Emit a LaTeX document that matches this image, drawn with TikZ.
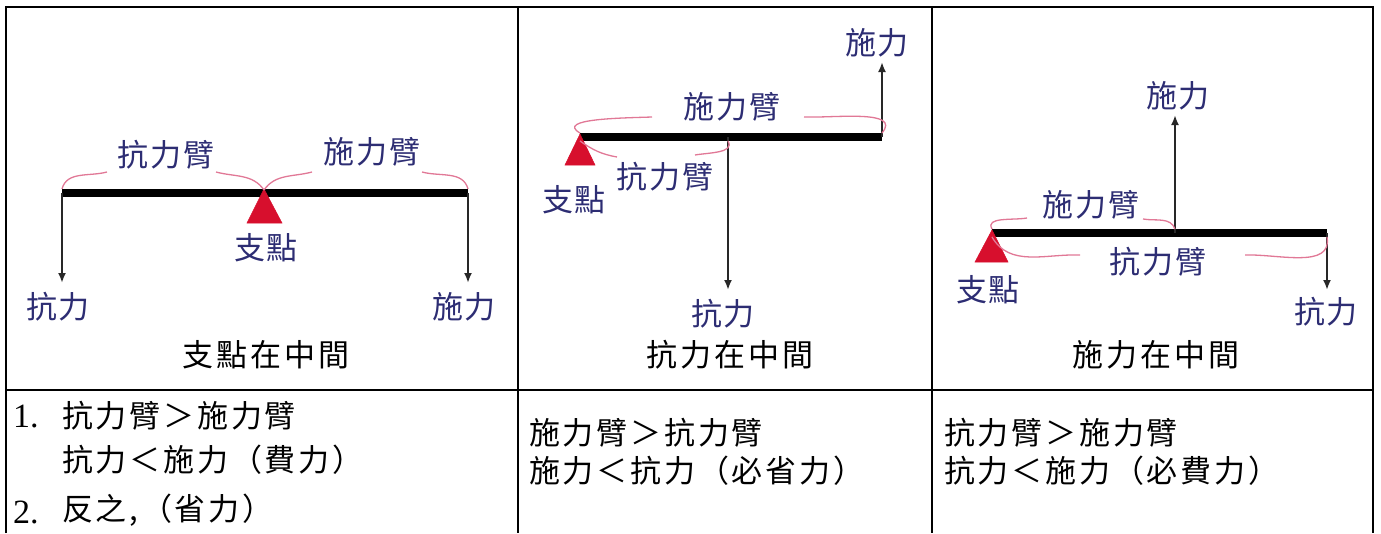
\documentclass[tikz,border=0pt]{standalone}
\usepackage{fontspec}
\usetikzlibrary{arrows.meta}
\newfontfamily\cjktab[LetterSpace=9]{Noto Sans CJK TC}
\newfontfamily\cjklab[LetterSpace=6]{Noto Sans CJK TC}
\newfontfamily\numfont{Liberation Serif}
\definecolor{navy}{RGB}{45,45,115}
\definecolor{arcpink}{RGB}{225,120,150}
\definecolor{fulcred}{RGB}{215,15,45}
\definecolor{arrowgray}{RGB}{40,40,40}
\tikzset{
  tablegrid/.style={line width=2.6pt,black},
  beam/.style={line width=8pt,black},
  fulcrum/.style={fill=fulcred,draw=fulcred,line width=0.5pt},
  force/.style={line width=2.2pt,arrowgray,-{Latex[length=10pt,width=8pt]}},
  armarc/.style={line width=1.3pt,arcpink},
  lab/.style={font=\cjklab\fontsize{31}{31}\selectfont,text=navy,inner sep=0pt},
  tabtext/.style={font=\cjktab\fontsize{31}{31}\selectfont,text=black,inner sep=0pt,anchor=west},
  captext/.style={font=\cjktab\fontsize{31}{31}\selectfont,text=black,inner sep=0pt},
  numtext/.style={font=\numfont\fontsize{34}{34}\selectfont,text=black,inner sep=0pt,anchor=west}
}
\begin{document}
\begin{tikzpicture}[x=1pt,y=-1pt]
\useasboundingbox (0,0) rectangle (1381,533);
% table grid
\coordinate (tl) at (6,7); \coordinate (tr) at (1373,7);
\coordinate (bl) at (6,533); \coordinate (br) at (1373,533);
\coordinate (c1t) at (518,7); \coordinate (c1b) at (518,533);
\coordinate (c2t) at (932,7); \coordinate (c2b) at (932,533);
\coordinate (hl) at (6,390); \coordinate (hr) at (1373,390);
\draw[tablegrid] (bl) -- (tl) -- (tr) -- (br);
\draw[tablegrid] (c1t) -- (c1b);
\draw[tablegrid] (c2t) -- (c2b);
\draw[tablegrid] (hl) -- (hr);

% ===== cell 1: fulcrum in middle =====
\coordinate (aL) at (62,193); \coordinate (aR) at (468,193); \coordinate (aF) at (264,193);
\draw[beam] (aL) -- (aR);
\filldraw[fulcrum] (264,189) coordinate (aApex) -- (247,223) coordinate (aB1) -- (282,223) coordinate (aB2) -- cycle;
\node[lab] (aFul) at (266,248) {支點};
\coordinate (aLe) at (62,283); \coordinate (aRe) at (468,283);
\draw[force] (aL) -- (aLe);
\draw[force] (aR) -- (aRe);
\node[lab] (aRes) at (58,307) {抗力};
\node[lab] (aEff) at (464,307) {施力};
\node[lab] (aRA) at (166,155) {抗力臂};
\node[lab] (aEA) at (372,152) {施力臂};
\draw[armarc] (62,189) to[out=75,in=195] (107,172);
\draw[armarc] (216,172) to[out=-15,in=125] (264,190);
\draw[armarc] (264,190) to[out=55,in=195] (312,172);
\draw[armarc] (422,172) to[out=-15,in=105] (468,189);

% ===== cell 2: resistance in middle =====
\coordinate (bL) at (580,137); \coordinate (bR) at (882,137); \coordinate (bM) at (728,137);
\draw[beam] (bL) -- (bR);
\filldraw[fulcrum] (580,134) -- (565,165) -- (595,165) -- cycle;
\node[lab] (bFul) at (574,200) {支點};
\coordinate (bUe) at (882,62); \coordinate (bDe) at (728,290);
\draw[force] (bR) -- (bUe);
\draw[force] (bM) -- (bDe);
\node[lab] (bEff) at (877,43) {施力};
\node[lab] (bRes) at (723,314) {抗力};
\node[lab] (bEA) at (732,107) {施力臂};
\node[lab] (bRA) at (665,177) {抗力臂};
\draw[armarc] (580,133) to[out=150,in=182] (652,117);
\draw[armarc] (804,117) to[out=-2,in=50] (882,133);
\draw[armarc] (580,141) to[out=-35,in=170] (617,157);
\draw[armarc] (695,155) to[out=10,in=-60] (728,141);

% ===== cell 3: effort in middle =====
\coordinate (cL) at (992,233); \coordinate (cR) at (1327,233); \coordinate (cM) at (1175,233);
\draw[beam] (cL) -- (cR);
\filldraw[fulcrum] (992,230) -- (975,262) -- (1008,262) -- cycle;
\node[lab] (cFul) at (988,290) {支點};
\coordinate (cUe) at (1175,115); \coordinate (cDe) at (1327,290);
\draw[force] (cM) -- (cUe);
\draw[force] (cR) -- (cDe);
\node[lab] (cEff) at (1178,96) {施力};
\node[lab] (cRes) at (1326,312) {抗力};
\node[lab] (cEA) at (1091,205) {施力臂};
\node[lab] (cRA) at (1158,262) {抗力臂};
\draw[armarc] (992,229) to[out=120,in=190] (1027,218);
\draw[armarc] (1143,219) to[out=-10,in=110] (1175,229);
\draw[armarc] (992,237) to[out=-60,in=178] (1080,255);
\draw[armarc] (1245,255) to[out=2,in=-80] (1327,237);

% captions
\node[captext] (cap1) at (266,355) {支點在中間};
\node[captext] (cap2) at (730,355) {抗力在中間};
\node[captext] (cap3) at (1156,355) {施力在中間};

% bottom row texts
\node[numtext] (n1) at (13,417) {1.};
\node[tabtext] (t1a) at (62,416) {抗力臂＞施力臂};
\node[tabtext] (t1b) at (62,460) {抗力＜施力（費力）};
\node[numtext] (n2) at (13,512) {2.};
\node[tabtext] (t1c) at (62,510) {反之,（省力）};
\node[tabtext] (t2a) at (529,433) {施力臂＞抗力臂};
\node[tabtext] (t2b) at (529,471) {施力＜抗力（必省力）};
\node[tabtext] (t3a) at (944,433) {抗力臂＞施力臂};
\node[tabtext] (t3b) at (944,471) {抗力＜施力（必費力）};
\end{tikzpicture}
\end{document}
